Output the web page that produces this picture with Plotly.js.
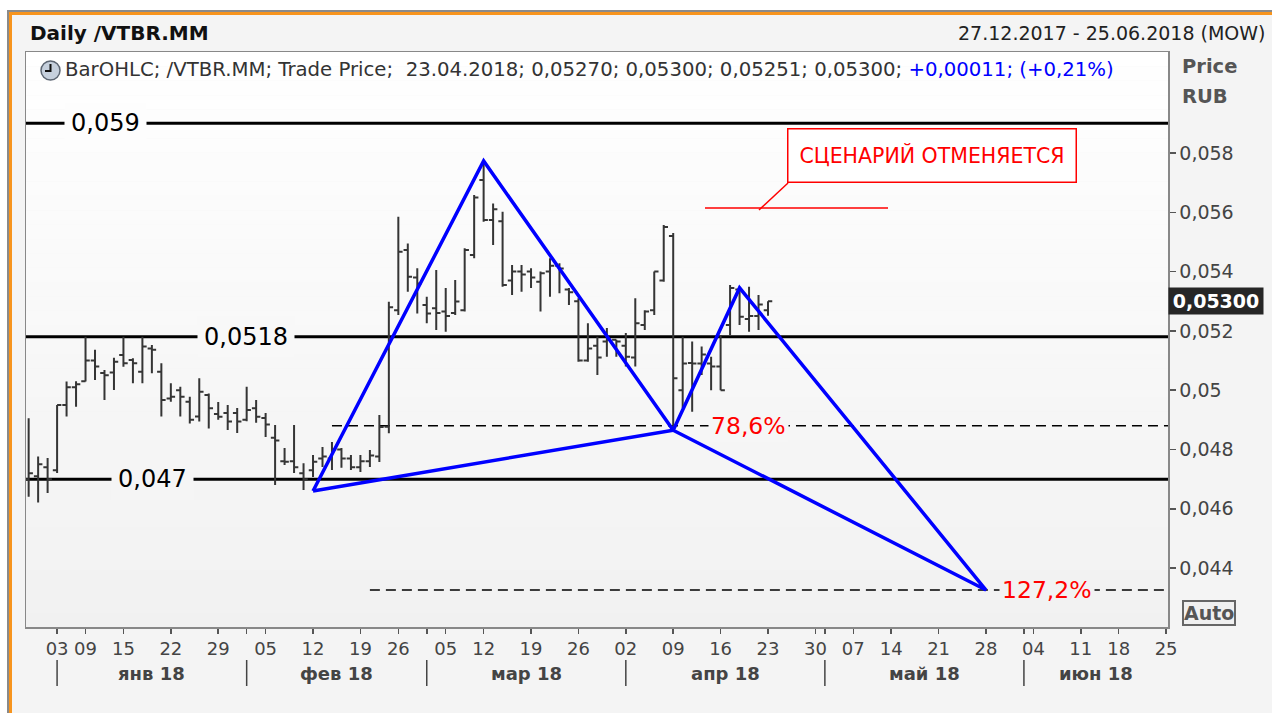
<!DOCTYPE html>
<html><head><meta charset="utf-8">
<script src="https://cdn.plot.ly/plotly-3.0.1.min.js"></script>
<style>html,body{margin:0;padding:0;background:#fff;overflow:hidden}#chart{width:1272px;height:713px;}</style>
</head><body><div id="chart"></div>
<script>
// ================= DATA =================
const symbol = '/VTBR.MM';
const calendarStart = '2017-12-27';
const calendarEnd = '2018-06-25';
const holidays = ['2018-01-01','2018-01-02','2018-01-08','2018-02-23','2018-03-08','2018-05-01','2018-05-09','2018-06-12'];

// daily bars, one per trading day starting 27.12.2017
const open  = [0.0470,0.0471,0.0474,0.0473,0.0495,0.0501,0.0503,0.0510,0.05058,0.0506,
               0.05119,0.05102,0.05062,0.05141,0.05062,0.04972,0.0500,0.04961,0.04911,0.04984,
               0.0492,0.04923,0.04923,0.0490,0.04939,0.04906,0.0484,0.0476,0.0476,0.0472,
               0.0473,0.0477,0.0477,0.0480,0.0477,0.0474,0.0476,0.04776,0.04877,0.0527,
               0.05473,0.0538,0.05287,0.05276,0.05265,0.0526,0.0527,0.05456,0.05709,0.05574,
               0.0557,0.0537,0.0540,0.0540,0.05366,0.0540,0.0542,0.0534,0.0530,0.0510,
               0.0515,0.05164,0.0517,0.0515,0.0511,0.0522,0.0527,0.0537,0.0552,0.0500,
               0.05092,0.0509,0.0509,0.0508,0.0522,0.0534,0.0524,0.0525,0.05270];
const high  = [0.04905,0.04776,0.04771,0.0495,0.05029,0.0503,0.0518,0.05136,0.05068,0.05109,
               0.0518,0.05108,0.0518,0.05152,0.05091,0.05023,0.05012,0.04978,0.0504,0.04989,
               0.0496,0.0495,0.0494,0.05012,0.04967,0.04923,0.04883,0.04805,0.04883,0.04754,
               0.04781,0.04808,0.04825,0.04805,0.04781,0.04781,0.04798,0.04916,0.05298,0.05585,
               0.05495,0.05411,0.05315,0.05405,0.05345,0.05372,0.05479,0.05658,0.05771,0.0563,
               0.05602,0.05422,0.05422,0.05411,0.0540,0.05445,0.05428,0.05345,0.0531,0.05226,
               0.0518,0.0521,0.0517,0.05193,0.0531,0.0527,0.0540,0.05557,0.0553,0.0518,
               0.05164,0.05147,0.05113,0.05186,0.05355,0.05349,0.05349,0.05321,0.05300];
const low   = [0.04641,0.04621,0.04653,0.04721,0.04911,0.04944,0.05029,0.05034,0.04967,0.05001,
               0.05079,0.05023,0.05023,0.05057,0.04911,0.04961,0.04911,0.04888,0.04894,0.04871,
               0.0490,0.04866,0.04856,0.04895,0.0489,0.04842,0.0468,0.04748,0.04721,0.04663,
               0.04707,0.04741,0.04731,0.04738,0.04731,0.04724,0.04741,0.04758,0.04855,0.05254,
               0.05332,0.05259,0.05226,0.05203,0.05197,0.05254,0.05265,0.05445,0.05568,0.0549,
               0.05349,0.05321,0.05332,0.05345,0.05265,0.05315,0.05327,0.05287,0.05096,0.05096,
               0.05051,0.05113,0.05113,0.0508,0.0508,0.05203,0.05254,0.05366,0.0486,0.0494,
               0.04927,0.05051,0.0500,0.0500,0.05186,0.0522,0.05197,0.05203,0.05251];
const close = [0.0472,0.0475,0.0470,0.0495,0.0501,0.0502,0.0510,0.0508,0.0505,0.05096,
               0.05091,0.05091,0.05147,0.05136,0.04967,0.04978,0.04978,0.0490,0.04995,0.04939,
               0.0491,0.04894,0.04894,0.04933,0.0491,0.04884,0.0483,0.04759,0.0474,0.0470,
               0.04759,0.04776,0.0480,0.0477,0.0474,0.0476,0.0478,0.04876,0.0528,0.05467,
               0.05383,0.0536,0.05259,0.0526,0.0525,0.05299,0.05473,0.0565,0.05574,0.0561,
               0.05355,0.0540,0.0539,0.0538,0.05394,0.0542,0.0541,0.0533,0.0510,0.05141,
               0.0511,0.0517,0.05164,0.05113,0.05226,0.05265,0.0540,0.0555,0.0504,0.0509,
               0.0509,0.0512,0.0508,0.0500,0.05345,0.05248,0.0525,0.05289,0.05300];

// horizontal support / resistance levels
const levels = [0.059, 0.0518, 0.047];

// harmonic pattern points (date, price)
const patternDates  = ['2018-02-12','2018-03-12','2018-04-09','2018-04-18','2018-05-28'];
const patternPrices = [0.0466, 0.05773, 0.04865, 0.05345, 0.04326];

// fibonacci levels
const fibLevels     = [0.0488, 0.04326];
const fibLabels     = ['78,6%', '127,2%'];
const fibStartDates = ['2018-02-14', '2018-02-20'];

// scenario note
const noteText = 'СЦЕНАРИЙ ОТМЕНЯЕТСЯ';

// axes
const dayTickDates = ['2018-01-03','2018-01-09','2018-01-15','2018-01-22','2018-01-29','2018-02-05','2018-02-12',
  '2018-02-19','2018-02-26','2018-03-05','2018-03-12','2018-03-19','2018-03-26','2018-04-02','2018-04-09',
  '2018-04-16','2018-04-23','2018-04-30','2018-05-07','2018-05-14','2018-05-21','2018-05-28','2018-06-04',
  '2018-06-11','2018-06-18','2018-06-25'];
const monthLabels = ['янв 18','фев 18','мар 18','апр 18','май 18','июн 18'];
const yTicks      = [0.044,0.046,0.048,0.050,0.052,0.054,0.056,0.058];
const yTickLabels = ['0,044','0,046','0,048','0,05','0,052','0,054','0,056','0,058'];

// ================= BUILD =================
const FONT = 'DejaVu Sans, Verdana, sans-serif';
const W = 1272, H = 713, ML = 26, MR = 104, MT = 52, MB = 86;
const PW = W - ML - MR, PH = H - MT - MB;
const px = x => (x - ML) / PW;          // pixel -> paper x
const py = y => (H - MB - y) / PH;      // pixel -> paper y

const iso = d => d.toISOString().slice(0, 10);
const days = [];
for (let t = Date.parse(calendarStart + 'T00:00:00Z'); t <= Date.parse(calendarEnd + 'T00:00:00Z'); t += 86400000) {
  const d = new Date(t), wd = d.getUTCDay(), s = iso(d);
  if (wd !== 0 && wd !== 6 && !holidays.includes(s)) days.push(s);
}
const idx = s => days.indexOf(s);
const ddmmyyyy = s => s.slice(8, 10) + '.' + s.slice(5, 7) + '.' + s.slice(0, 4);
const fmt = (v, n) => (n === undefined ? String(v) : v.toFixed(n)).replace('.', ',');

const xRange = [-0.28, days.length - 1 + 0.2];
const yRange = [0.042013, 0.061406];
const yPaper = v => (v - yRange[0]) / (yRange[1] - yRange[0]);
const bgAt = p => { const g = Math.round(241 + 14 * Math.max(0, Math.min(1, p))); return `rgb(${g},${g},${g})`; };

const barX = open.map((_, i) => i);

const traces = [];
traces.push({
  type: 'ohlc', x: barX, open, high, low, close,
  increasing: {line: {color: '#353535', width: 2}},
  decreasing: {line: {color: '#353535', width: 2}},
  tickwidth: 0.45, hoverinfo: 'skip', showlegend: false
});
const P = patternDates.map((d, i) => ({x: idx(d), y: patternPrices[i]}));
[[0, 1, 2, 0], [2, 3, 4, 2]].forEach(path => {
  traces.push({
    type: 'scatter', mode: 'lines', x: path.map(k => P[k].x), y: path.map(k => P[k].y),
    line: {color: '#0000ff', width: 3.5}, hoverinfo: 'skip', showlegend: false
  });
});

const shapes = [];
// plot background gradient
const N = 40;
for (let k = 0; k < N; k++) {
  shapes.push({type: 'rect', xref: 'paper', yref: 'paper', x0: 0, x1: 1, y0: k / N, y1: (k + 1) / N,
    fillcolor: bgAt((k + 0.5) / N), line: {width: 0}, layer: 'below'});
}
// outer window frame
shapes.push({type: 'rect', xref: 'paper', yref: 'paper', x0: px(-10), x1: px(W + 10), y0: py(10), y1: py(-10), fillcolor: '#ffffff', line: {width: 0}, layer: 'below'});
shapes.push({type: 'rect', xref: 'paper', yref: 'paper', x0: px(-10), x1: px(7), y0: py(H + 10), y1: py(-10), fillcolor: '#ffffff', line: {width: 0}, layer: 'below'});
shapes.push({type: 'line', xref: 'paper', yref: 'paper', x0: px(7), x1: px(W + 10), y0: py(11), y1: py(11), line: {color: '#8a8a8a', width: 2}, layer: 'below'});
shapes.push({type: 'line', xref: 'paper', yref: 'paper', x0: px(8), x1: px(8), y0: py(10), y1: py(H + 10), line: {color: '#8a8a8a', width: 2}, layer: 'below'});
shapes.push({type: 'line', xref: 'paper', yref: 'paper', x0: px(9.5), x1: px(W + 10), y0: py(13.5), y1: py(13.5), line: {color: '#f7941d', width: 3}, layer: 'below'});
shapes.push({type: 'line', xref: 'paper', yref: 'paper', x0: px(10.5), x1: px(10.5), y0: py(12), y1: py(H + 10), line: {color: '#f7941d', width: 3}, layer: 'below'});

// support/resistance lines
levels.forEach(v => shapes.push({type: 'line', xref: 'paper', yref: 'y', x0: 0, x1: 1, y0: v, y1: v,
  line: {color: '#000', width: 3}, layer: 'below'}));
// fib dashed lines
fibLevels.forEach((v, i) => shapes.push({type: 'line', xref: 'x', yref: 'y', x0: idx(fibStartDates[i]), x1: xRange[1], y0: v, y1: v,
  line: {color: '#000', width: 1.5, dash: '10px,6px'}, layer: 'below'}));
// scenario note pointer
shapes.push({type: 'line', xref: 'paper', yref: 'paper', x0: px(705), x1: px(888), y0: py(208), y1: py(208), line: {color: '#ff0000', width: 1.5}});
shapes.push({type: 'line', xref: 'paper', yref: 'paper', x0: px(759), x1: px(788), y0: py(210), y1: py(183), line: {color: '#ff0000', width: 1.5}});
// month separators (first trading day of each month)
const monthStarts = [];
days.forEach((d, i) => { if (i > 0 && d.slice(5, 7) !== days[i - 1].slice(5, 7)) monthStarts.push(i); });
monthStarts.forEach(i => shapes.push({type: 'line', xref: 'x', yref: 'paper', x0: i, x1: i, y0: py(660), y1: py(686),
  line: {color: '#444', width: 1.5}}));
// clock icon
shapes.push({type: 'circle', xref: 'paper', yref: 'paper', x0: px(41), x1: px(60), y0: py(80), y1: py(61),
  fillcolor: '#c6d0dd', line: {color: '#5d6673', width: 1.5}});
shapes.push({type: 'path', xref: 'paper', yref: 'paper',
  path: `M ${px(50.5)} ${py(64)} L ${px(50.5)} ${py(71)} L ${px(45)} ${py(71)}`, line: {color: '#111', width: 2}});

const annotations = [];
const A = (o) => annotations.push(Object.assign({showarrow: false, xref: 'paper', yref: 'paper'}, o));

// header
A({x: px(28), y: py(33), xanchor: 'left', yanchor: 'middle', text: '<b>Daily ' + symbol + '</b>',
  font: {family: FONT, size: 20, color: '#111'}});
A({x: px(1268), y: py(33), xanchor: 'right', yanchor: 'middle',
  text: ddmmyyyy(days[0]) + ' - ' + ddmmyyyy(days[days.length - 1]) + ' (MOW)',
  font: {family: FONT, size: 19, color: '#222'}});
// legend line
const L = open.length - 1;
const chg = close[L] - close[L - 1];
const pct = chg / close[L - 1] * 100;
const sgn = v => (v >= 0 ? '+' : '-');
A({x: px(63), y: py(70), xanchor: 'left', yanchor: 'middle',
  text: 'BarOHLC; ' + symbol + '; Trade Price;  ' + ddmmyyyy(days[L]) + '; ' +
    [open[L], high[L], low[L], close[L]].map(v => fmt(v, 5)).join('; ') + '; ' +
    '<span style="color:#0000ff">' + sgn(chg) + fmt(Math.abs(chg), 5) + '; (' + sgn(pct) + fmt(Math.abs(pct), 2) + '%)</span>',
  font: {family: FONT, size: 19.7, color: '#333'}});
A({x: px(1180), y: py(67), xanchor: 'left', yanchor: 'middle', text: '<b>Price</b>', font: {family: FONT, size: 19.5, color: '#555'}});
A({x: px(1180), y: py(96), xanchor: 'left', yanchor: 'middle', text: '<b>RUB</b>', font: {family: FONT, size: 19.5, color: '#555'}});
A({x: px(1209), y: py(613), xanchor: 'center', yanchor: 'middle', text: '<b>Auto</b>', font: {family: FONT, size: 19, color: '#555'},
  bordercolor: '#666', borderwidth: 2, borderpad: 0, bgcolor: '#f0f0f0'});
// last price marker
A({x: 1, y: close[L], yref: 'y', xanchor: 'left', yanchor: 'middle', text: '<b>' + fmt(close[L], 5) + '</b>',
  font: {family: FONT, size: 19, color: '#fff'}, bgcolor: '#262626', borderpad: 2, width: 90});

// level labels
const levelLabelPx = [105, 246, 152];
levels.forEach((v, i) => A({x: px(levelLabelPx[i]), y: v, yref: 'y', xanchor: 'center', yanchor: 'middle',
  text: fmt(v), font: {family: FONT, size: 24, color: '#000'}, bgcolor: bgAt(yPaper(v)), borderpad: 6}));
// fib labels
const fibLabelPx = [748, 1047];
fibLevels.forEach((v, i) => A({x: px(fibLabelPx[i]), y: v, yref: 'y', xanchor: 'center', yanchor: 'middle',
  text: fibLabels[i], font: {family: FONT, size: 23.5, color: '#ff0000'}, bgcolor: bgAt(yPaper(v)), borderpad: 2}));
// scenario note
A({x: px(932), y: py(155), xanchor: 'center', yanchor: 'middle', text: noteText,
  font: {family: FONT, size: 20.5, color: '#ff0000'}, bgcolor: '#ffffff', bordercolor: '#ff0000', borderwidth: 1.5,
  width: 285, height: 50});
// month labels, centred between month starts
monthLabels.forEach((m, k) => {
  const a = monthStarts[k];
  const b = monthStarts[k + 1] !== undefined ? monthStarts[k + 1] : xRange[1];
  A({x: (a + b) / 2, xref: 'x', y: py(673), xanchor: 'center', yanchor: 'middle', text: '<b>' + m + '</b>',
    font: {family: FONT, size: 18, color: '#444'}});
});

const layout = {
  width: W, height: H,
  margin: {l: ML, r: MR, t: MT, b: MB, pad: 0},
  paper_bgcolor: '#f4f4f4', plot_bgcolor: 'rgba(0,0,0,0)',
  showlegend: false,
  xaxis: {
    type: 'linear', range: xRange, rangeslider: {visible: false},
    tickmode: 'array', tickvals: dayTickDates.map(idx), ticktext: dayTickDates.map(d => d.slice(8, 10)),
    ticks: 'outside', ticklen: 5, tickwidth: 1.5, tickcolor: '#555',
    minor: {tickmode: 'array', tickvals: monthStarts, ticks: 'outside', ticklen: 5, tickwidth: 1.5, tickcolor: '#555'},
    tickfont: {family: FONT, size: 18, color: '#444'},
    showgrid: false, zeroline: false, showline: true, mirror: true, linecolor: '#888', linewidth: 1.5, fixedrange: true
  },
  yaxis: {
    side: 'right', range: yRange,
    tickmode: 'array', tickvals: yTicks, ticktext: yTickLabels,
    ticks: 'outside', ticklen: 6, tickwidth: 1.5, tickcolor: '#555',
    tickfont: {family: FONT, size: 19, color: '#444'},
    showgrid: false, zeroline: false, showline: true, mirror: true, linecolor: '#888', linewidth: 1.5, fixedrange: true
  },
  shapes, annotations
};
Plotly.newPlot('chart', traces, layout, {staticPlot: true, displayModeBar: false});
</script></body></html>
